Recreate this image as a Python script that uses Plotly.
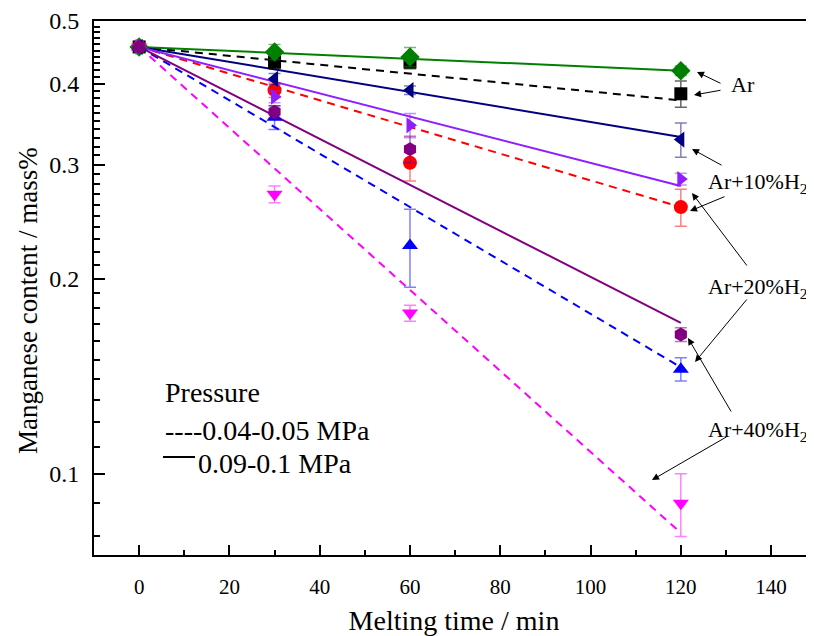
import plotly.graph_objects as go

# melting time (min)
time = [0, 30, 60, 120]

# Mn content (mass%) and error bars
ar_05 = [0.456, 0.448, 0.440, 0.419]
ar_05_err = [0.003, 0.012, 0.015, 0.007]
ar_04 = [0.456, 0.432, 0.432, 0.386]
ar_04_err = [0.003, 0.010, 0.010, 0.018]
h10_05 = [0.456, 0.407, 0.391, 0.328]
h10_05_err = [0.003, 0.008, 0.006, 0.020]
h10_04 = [0.456, 0.391, 0.302, 0.258]
h10_04_err = [0.003, 0.010, 0.019, 0.017]
h20_05 = [0.456, 0.382, 0.345, 0.285]
h20_05_err = [0.003, 0.008, 0.015, 0.006]
h20_04 = [0.456, 0.355, 0.225, 0.145]
h20_04_err = [0.003, 0.015, 0.031, 0.006]
h40_05 = [0.456, 0.362, 0.317, 0.164]
h40_05_err = [0.003, 0.008, 0.015, 0.004]
h40_04 = [0.456, 0.270, 0.177, 0.090]
h40_04_err = [0.003, 0.008, 0.005, 0.010]

# fitted lines (start at 0 min, end at 120 min)
fit_x = [0, 120]
fit_start = 0.456
fit_end = {'ar_05': 0.419, 'ar_04': 0.377, 'h10_05': 0.331, 'h10_04': 0.258,
           'h20_05': 0.278, 'h20_04': 0.146, 'h40_05': 0.171, 'h40_04': 0.081}

series = [
    ('ar_04', ar_04, ar_04_err, '#000000', 'rgba(0,0,0,0.6)', 'square', 13),
    ('ar_05', ar_05, ar_05_err, '#008000', 'rgba(0,128,0,0.55)', 'diamond', 15),
    ('h10_04', h10_04, h10_04_err, '#FF0000', 'rgba(255,0,0,0.5)', 'circle', 14),
    ('h10_05', h10_05, h10_05_err, '#000080', 'rgba(0,0,128,0.5)', 'triangle-left', 14),
    ('h20_04', h20_04, h20_04_err, '#0000FF', 'rgba(0,0,255,0.5)', 'triangle-up', 14),
    ('h20_05', h20_05, h20_05_err, '#8F1FFF', 'rgba(143,31,255,0.5)', 'triangle-right', 14),
    ('h40_04', h40_04, h40_04_err, '#FF00FF', 'rgba(255,0,255,0.5)', 'triangle-down', 14),
    ('h40_05', h40_05, h40_05_err, '#800080', 'rgba(128,0,128,0.55)', 'hexagon', 14),
]
dashed = {'ar_04', 'h10_04', 'h20_04', 'h40_04'}

y_major = [0.1, 0.2, 0.3, 0.4, 0.5]
y_minor = [round(0.07 + 0.01 * i, 2) for i in range(44)]

fig = go.Figure()
for key, vals, err, col, ecol, sym, size in series:
    fig.add_trace(go.Scatter(x=fit_x, y=[fit_start, fit_end[key]], mode='lines',
                             line=dict(color=col, width=2,
                                       dash='8px,6px' if key in dashed else 'solid'),
                             showlegend=False, hoverinfo='skip'))
for key, vals, err, col, ecol, sym, size in series:
    fig.add_trace(go.Scatter(x=time, y=vals, mode='markers',
                             marker=dict(symbol=sym, size=size, color=col),
                             error_y=dict(type='data', array=err, color=ecol,
                                          thickness=1.5, width=6),
                             showlegend=False))

font = 'Liberation Serif, Times New Roman, serif'

# page has an 8px body margin; plot box in page pixels
OFF = 8
L, T, W, H = 94, 21, 720, 534
FW, FH = 814 - OFF, 636 - OFF


def px(x):
    return (x - L) / W


def py(y):
    return (T + H - y) / H


ann = []
labels = [('Ar', 743, 85), ('Ar+10%H<sub>2</sub>', 758, 183),
          ('Ar+20%H<sub>2</sub>', 758, 288), ('Ar+40%H<sub>2</sub>', 758, 431)]
for txt, x, y in labels:
    ann.append(dict(text=txt, x=px(x), y=py(y), xref='paper', yref='paper',
                    xanchor='center', yanchor='middle', showarrow=False,
                    font=dict(family=font, size=22, color='black')))

arrows = [((697, 72), (722, 84)), ((694, 95), (722, 90)),
          ((692, 149), (723, 166)), ((690, 211), (726, 196)),
          ((692, 193), (748, 267)), ((695, 362), (748, 298)),
          ((688, 338), (732, 413)), ((652, 480), (728, 436))]
for (hx, hy), (tx, ty) in arrows:
    ann.append(dict(text='', x=px(hx), y=py(hy), xref='paper', yref='paper',
                    ax=tx - hx, ay=ty - hy, showarrow=True, arrowhead=2,
                    arrowsize=1.4, arrowwidth=1, arrowcolor='black'))

legend_txt = [('Pressure', 163, 393), ('----0.04-0.05 MPa', 163, 430),
              ('0.09-0.1 MPa', 196, 463)]
for txt, x, y in legend_txt:
    ann.append(dict(text=txt, x=px(x), y=py(y), xref='paper', yref='paper',
                    xanchor='left', yanchor='middle', showarrow=False,
                    font=dict(family=font, size=28, color='black')))

# y-axis title placed as in the original (slightly below plot centre)
ann.append(dict(text='Manganese content / mass%', x=px(28), y=py(301),
                xref='paper', yref='paper', textangle=-90, showarrow=False,
                xanchor='center', yanchor='middle',
                font=dict(family=font, size=27, color='black')))

fig.update_layout(
    width=FW, height=FH,
    margin=dict(l=L - OFF, r=0, t=T - OFF, b=FH - (T - OFF) - H, autoexpand=False),
    paper_bgcolor='white', plot_bgcolor='white',
    font=dict(family=font, size=20, color='black'),
    annotations=ann,
    shapes=[dict(type='line', xref='paper', yref='paper',
                 x0=px(163), x1=px(195), y0=py(457), y1=py(457),
                 line=dict(color='black', width=2))],
    xaxis=dict(range=[-10, 149.5], tickvals=[0, 20, 40, 60, 80, 100, 120, 140],
               ticks='inside', ticklen=10, tickwidth=1.5, tickcolor='black',
               showgrid=False, zeroline=False,
               showline=True, linecolor='black', linewidth=2, mirror=True,
               minor=dict(dtick=10, ticks='inside', ticklen=5, tickcolor='black',
                          tickwidth=1.5, showgrid=False),
               title=dict(text='Melting time / min', font=dict(size=28), standoff=12),
               ticklabelstandoff=12,
               tickfont=dict(size=21)),
    yaxis=dict(type='log', range=[-1.1256, -0.30103], tickvals=y_major,
               ticktext=['0.1', '0.2', '0.3', '0.4', '0.5'],
               ticks='inside', ticklen=11, tickwidth=1.5, tickcolor='black',
               showgrid=False, zeroline=False,
               showline=True, linecolor='black', linewidth=2, mirror=True,
               minor=dict(tickvals=y_minor, ticks='inside', ticklen=6,
                          tickcolor='black', tickwidth=1.5, showgrid=False),
               ticklabelstandoff=8,
               tickfont=dict(size=24)),
)

fig.write_html('out.html')
